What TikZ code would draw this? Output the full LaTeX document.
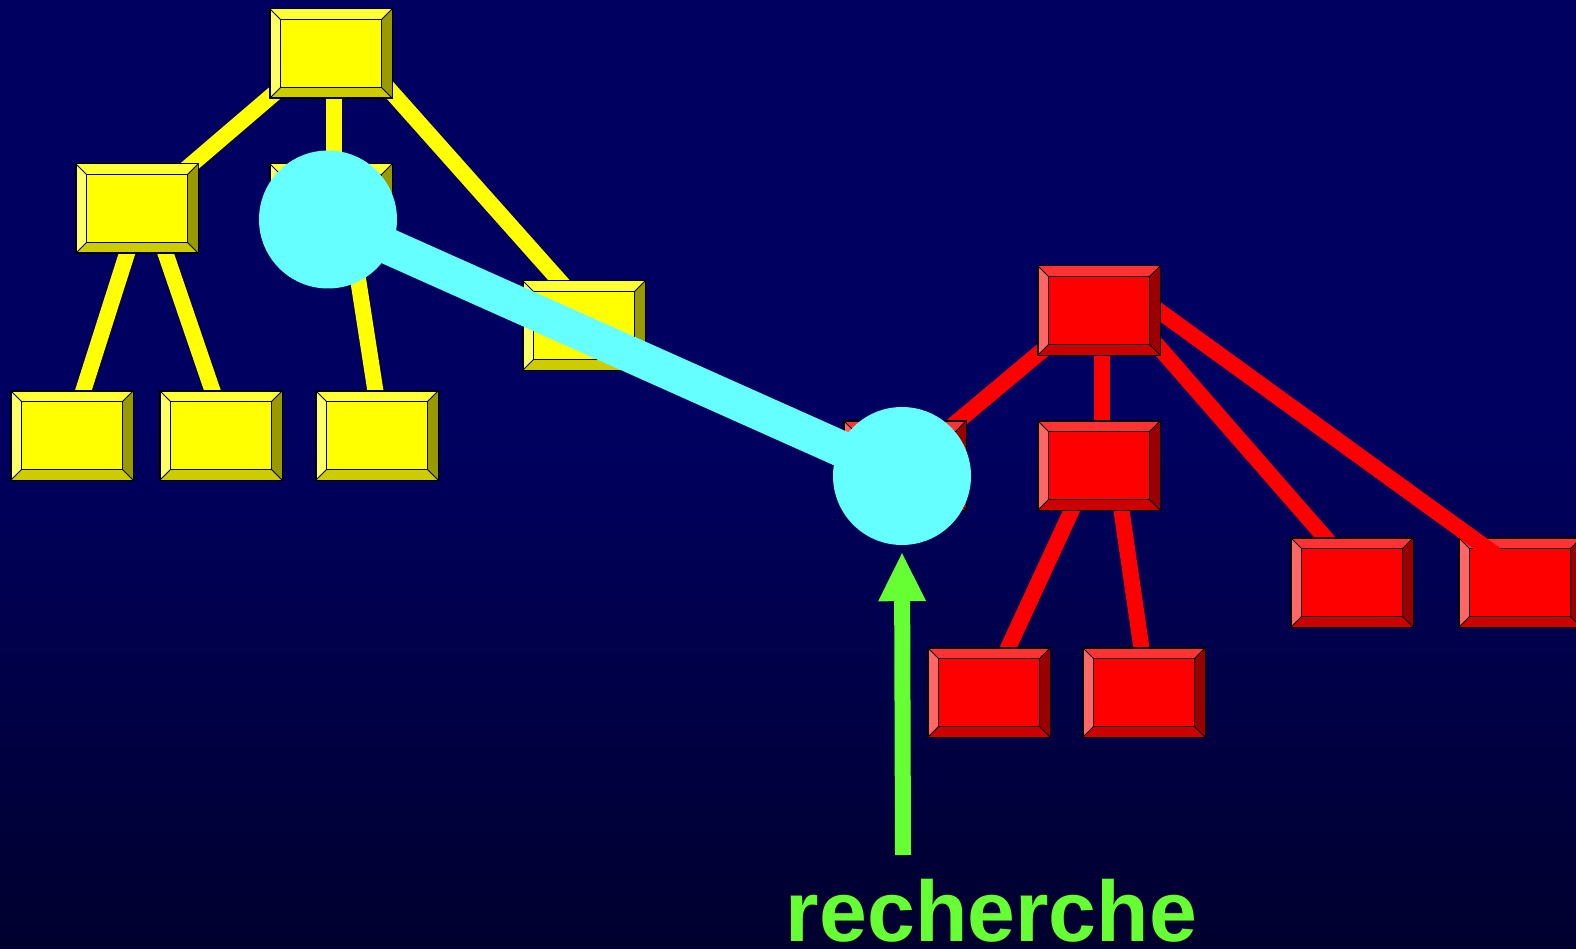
\documentclass[tikz,border=0pt]{standalone}
\usepackage{fontspec}
\newfontfamily\hvfont{Liberation Sans}
\usetikzlibrary{arrows.meta,calc}
\definecolor{bgtop}{RGB}{0,0,96}
\definecolor{bgbot}{RGB}{0,0,46}
\definecolor{yface}{RGB}{255,255,0}
\definecolor{ytop}{RGB}{255,255,51}
\definecolor{yleft}{RGB}{255,255,102}
\definecolor{yright}{RGB}{153,153,0}
\definecolor{ybot}{RGB}{204,204,0}
\definecolor{rface}{RGB}{255,0,0}
\definecolor{rtop}{RGB}{255,51,51}
\definecolor{rleft}{RGB}{255,102,102}
\definecolor{rright}{RGB}{153,0,0}
\definecolor{rbot}{RGB}{204,0,0}
\definecolor{cyanc}{RGB}{102,255,255}
\definecolor{greenc}{RGB}{102,255,51}
\newcommand\bevelpic[4]{%
  \fill[#1] (path picture bounding box.north west) -- (path picture bounding box.north east)
    -- ([shift={(-10.5pt,-10.5pt)}]path picture bounding box.north east)
    -- ([shift={(10.5pt,-10.5pt)}]path picture bounding box.north west) -- cycle;
  \fill[#2] (path picture bounding box.north west) -- (path picture bounding box.south west)
    -- ([shift={(10.5pt,10.5pt)}]path picture bounding box.south west)
    -- ([shift={(10.5pt,-10.5pt)}]path picture bounding box.north west) -- cycle;
  \fill[#3] (path picture bounding box.north east) -- (path picture bounding box.south east)
    -- ([shift={(-10.5pt,10.5pt)}]path picture bounding box.south east)
    -- ([shift={(-10.5pt,-10.5pt)}]path picture bounding box.north east) -- cycle;
  \fill[#4] (path picture bounding box.south west) -- (path picture bounding box.south east)
    -- ([shift={(-10.5pt,10.5pt)}]path picture bounding box.south east)
    -- ([shift={(10.5pt,10.5pt)}]path picture bounding box.south west) -- cycle;
  \draw[black,line width=1.2pt] ([shift={(10.5pt,-10.5pt)}]path picture bounding box.north west)
    rectangle ([shift={(-10.5pt,10.5pt)}]path picture bounding box.south east);
  \draw[black,line width=1pt]
    (path picture bounding box.north west) -- ([shift={(10.5pt,-10.5pt)}]path picture bounding box.north west)
    (path picture bounding box.north east) -- ([shift={(-10.5pt,-10.5pt)}]path picture bounding box.north east)
    (path picture bounding box.south west) -- ([shift={(10.5pt,10.5pt)}]path picture bounding box.south west)
    (path picture bounding box.south east) -- ([shift={(-10.5pt,10.5pt)}]path picture bounding box.south east);
}
\tikzset{
  boxbase/.style={draw=black, line width=1.5pt, minimum width=122.5pt, minimum height=89.5pt, inner sep=0pt},
  ybox/.style={boxbase, fill=yface, path picture={\bevelpic{ytop}{yleft}{yright}{ybot}}},
  rbox/.style={boxbase, fill=rface, path picture={\bevelpic{rtop}{rleft}{rright}{rbot}}},
  yline/.style={draw=yface, line width=16pt},
  rline/.style={draw=rface, line width=16pt},
  spot/.style={circle, fill=cyanc, minimum size=138pt, inner sep=0pt},
  cline/.style={draw=cyanc, line width=36pt},
  garrow/.style={draw=greenc, line width=16pt, -{Triangle[width=48pt,length=48pt,line width=0pt]}},
}
\begin{document}
\begin{tikzpicture}[x=1pt,y=-1pt]
\useasboundingbox (0,0) rectangle (1576,949);
\fill[bgtop] (0,0) rectangle (1576,430);
\shade[top color=bgtop, bottom color=bgbot] (0,429) rectangle (1576,949);

\path (331,53.5) coordinate (pY0) (137,208.5) coordinate (pY1) (331,208.5) coordinate (pY2)
      (584,325.5) coordinate (pY3) (72,435.5) coordinate (pY4) (221,435.5) coordinate (pY5)
      (377,435.5) coordinate (pY6)
      (1099,310.5) coordinate (pR0) (905,465.5) coordinate (pR1) (1099,465.5) coordinate (pR2)
      (1352,582.5) coordinate (pR3) (1520,582.5) coordinate (pR4) (989,692.5) coordinate (pR5)
      (1144,692.5) coordinate (pR6);

% connectors behind boxes
\draw[yline] ([shift={(-41,26.5)}]pY0) -- ([shift={(38,-30)}]pY1);
\draw[yline] ([shift={(3,36.5)}]pY0) -- ([shift={(3,-38.5)}]pY2);
\draw[yline] ([shift={(32,6.5)}]pY0) -- ([shift={(-19,-38.5)}]pY3);
\draw[yline] ([shift={(-7,35.5)}]pY1) -- ([shift={(8,-34.5)}]pY4);
\draw[yline] ([shift={(25,34.5)}]pY1) -- ([shift={(-5,-34.5)}]pY5);
\draw[yline] ([shift={(16,-0.5)}]pY2) -- ([shift={(0,-34.5)}]pY6);
\draw[rline] ([shift={(-49,33.5)}]pR0) -- ([shift={(40,-33.5)}]pR1);
\draw[rline] ([shift={(3,39.5)}]pR0) -- ([shift={(3,-40.5)}]pR2);
\draw[rline] ([shift={(-23,35.5)}]pR2) -- ([shift={(14,-33.5)}]pR5);
\draw[rline] ([shift={(21,34.5)}]pR2) -- ([shift={(-1,-33.5)}]pR6);
\draw[rline] ([shift={(51,26.5)}]pR0) -- ([shift={(-17,-33.5)}]pR3);

% R4 first: its connector lies over it but under R0
\node[rbox] (R4) at (pR4) {};
\draw[rline] ([shift={(41,-13.3)}]pR0) -- ([shift={(-15,-21)}]R4.center);

% boxes
\node[ybox] (Y0) at (pY0) {};
\node[ybox] (Y1) at (pY1) {};
\node[ybox] (Y2) at (pY2) {};
\node[ybox] (Y3) at (pY3) {};
\node[ybox] (Y4) at (pY4) {};
\node[ybox] (Y5) at (pY5) {};
\node[ybox] (Y6) at (pY6) {};
\node[rbox] (R0) at (pR0) {};
\node[rbox] (R1) at (pR1) {};
\node[rbox] (R2) at (pR2) {};
\node[rbox] (R3) at (pR3) {};
\node[rbox] (R5) at (pR5) {};
\node[rbox] (R6) at (pR6) {};

% search path
\node[spot] (A) at (328,219.5) {};
\node[spot] (B) at (902,476) {};
\draw[cline] (A.center) -- (B.center);

% label and arrow
\node[text=greenc, font=\hvfont\bfseries\fontsize{86}{90}\selectfont, anchor=base, inner sep=0pt] (rech) at (991.5,941) {recherche};
\coordinate (astart) at (903,855);
\draw[garrow] (astart) -- ([yshift=-8pt]B.south);
\end{tikzpicture}
\end{document}
